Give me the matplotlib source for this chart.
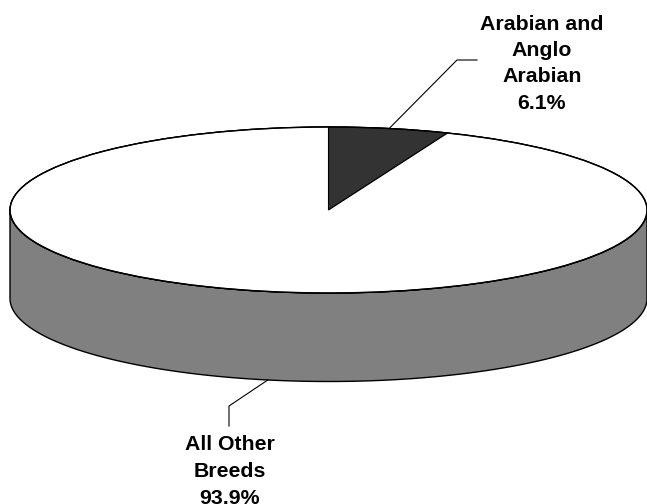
import numpy as np
import matplotlib.pyplot as plt
from matplotlib.patches import Polygon, Ellipse

labels = ["Arabian and\nAnglo\nArabian", "All Other\nBreeds"]
values = [6.1, 93.9]
colors = ["#333333", "#ffffff"]
side_color = "#808080"

# --- geometry of the 3D pie (pixel units) ---
W, H = 647, 504
cx, cy = 328.5, 210.0
a, b = 318.5, 83.0
depth = 88.5


def pt(t_deg, dz=0.0):
    t = np.radians(t_deg)
    return cx + a * np.cos(t), cy - b * np.sin(t) + dz


fig = plt.figure(figsize=(W / 100, H / 100), dpi=100)
ax = fig.add_axes([0, 0, 1, 1])
ax.set_xlim(0, W)
ax.set_ylim(H, 0)
ax.axis("off")

# front side wall (only the big slice is visible from the front)
t = np.linspace(180, 360, 200)
top_edge = [pt(v) for v in t]
bot_edge = [pt(v, depth) for v in t[::-1]]
ax.add_patch(Polygon(top_edge + bot_edge, closed=True, fc=side_color,
                     ec="black", lw=1.0, zorder=1))

# top face
ax.add_patch(Ellipse((cx, cy), 2 * a, 2 * b, fc="white", ec="black",
                     lw=1.0, zorder=2))

# slices on the top, starting at 12 o'clock, going clockwise
start = 90.0
mids = []
for val, col in zip(values, colors):
    sweep = val / sum(values) * 360
    end = start - sweep
    ts = np.linspace(start, end, 100)
    verts = [(cx, cy)] + [pt(v) for v in ts]
    ax.add_patch(Polygon(verts, closed=True, fc=col, ec="black", lw=0.8,
                         zorder=3))
    mids.append((start + end) / 2)
    start = end

# redraw outline of top ellipse over slices
ax.add_patch(Ellipse((cx, cy), 2 * a, 2 * b, fc="none", ec="black",
                     lw=1.0, zorder=4))

# va="baseline" puts the last line's baseline at y
font = dict(family=["Liberation Sans", "DejaVu Sans"], fontsize=15.3,
            fontweight="bold", ha="center", va="baseline", linespacing=1.50)

# label 1: Arabian
x0, y0 = pt(mids[0])
ax.plot([x0, 457, 477], [y0, 60, 60], color="black", lw=0.8, zorder=5)
ax.text(542, 109, f"{labels[0]}\n{values[0]:.1f}%", **font)

# label 2: All Other Breeds (last line touches the bottom edge, as in the source)
x1, y1 = pt(mids[1], depth)
ax.plot([x1, 229, 229], [y1, 406, 426], color="black", lw=0.8, zorder=5)
ax.text(230, 503.5, f"{labels[1]}\n{values[1]:.1f}%", **font)

fig.savefig("out.png", dpi=100)
